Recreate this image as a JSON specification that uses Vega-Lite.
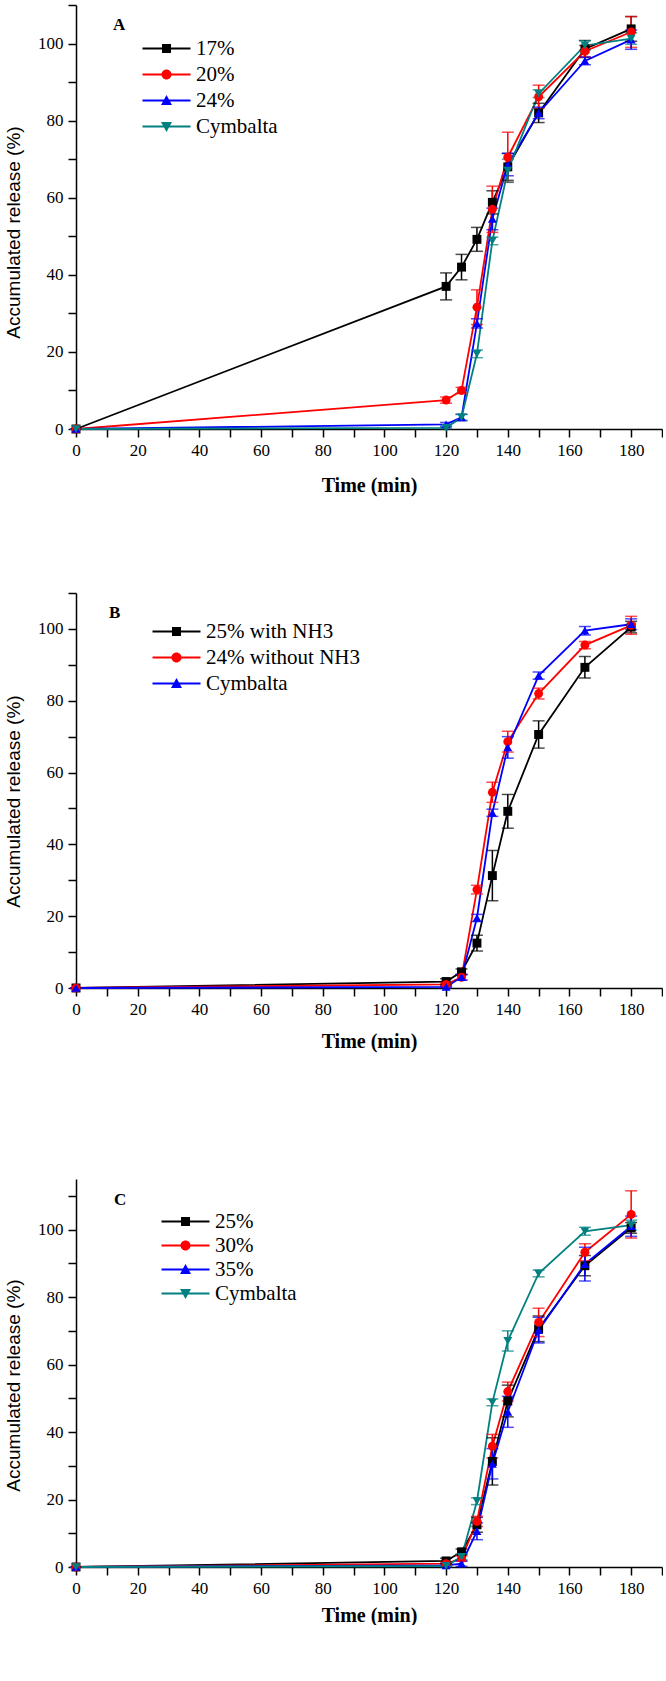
{
  "$schema": "https://vega.github.io/schema/vega-lite/v6.json",
  "padding": {"left": 4, "top": 4, "right": 0, "bottom": 0},
  "config": {
    "view": {"stroke": null},
    "axis": {"grid": false, "domainColor": "#000", "domainWidth": 1.5, "tickColor": "#000", "tickWidth": 1.5, "tickSize": 8, "labelFont": "Liberation Serif", "labelColor": "#000", "labelPadding": 5, "titleColor": "#000"},
    "axisX": {"titleFont": "Liberation Serif", "titleFontWeight": "bold", "titleFontSize": 20, "labelAngle": 0, "labelFlush": false, "labelOverlap": false, "labelFontSize": 17},
    "axisY": {"titleFont": "Liberation Sans", "titleFontWeight": "normal", "titleFontSize": 19, "titlePadding": 14, "labelOverlap": false, "labelFontSize": {"condition": {"test": "datum.value % 20 !== 0", "value": 0}, "value": 17}},
    "legend": {"orient": "none", "labelFont": "Liberation Serif", "labelFontSize": 21, "labelColor": "#000", "symbolSize": 100, "symbolStrokeWidth": 0, "padding": 0, "symbolOffset": 18, "labelOffset": 19, "rowPadding": 4, "labelBaseline": "middle"},
    "title": {"font": "Liberation Serif", "fontWeight": "bold", "fontSize": 17, "color": "#000", "anchor": "start", "frame": "group", "baseline": "middle"}
  },
  "datasets": {
    "A": [
      {"series": "17%", "time": 0, "value": 0, "err": 0},
      {"series": "17%", "time": 120, "value": 37, "err": 3.5},
      {"series": "17%", "time": 125, "value": 42, "err": 3.3},
      {"series": "17%", "time": 130, "value": 49.2, "err": 3.1},
      {"series": "17%", "time": 135, "value": 58.8, "err": 3},
      {"series": "17%", "time": 140, "value": 68, "err": 3.5},
      {"series": "17%", "time": 150, "value": 82, "err": 2.5},
      {"series": "17%", "time": 165, "value": 98.6, "err": 2.2},
      {"series": "17%", "time": 180, "value": 103.8, "err": 3.2},
      {"series": "20%", "time": 0, "value": 0, "err": 0},
      {"series": "20%", "time": 120, "value": 7.5, "err": 0.8},
      {"series": "20%", "time": 125, "value": 10, "err": 0.8},
      {"series": "20%", "time": 130, "value": 31.6, "err": 4.5},
      {"series": "20%", "time": 135, "value": 57, "err": 6},
      {"series": "20%", "time": 140, "value": 70.5, "err": 6.5},
      {"series": "20%", "time": 150, "value": 86.2, "err": 3},
      {"series": "20%", "time": 165, "value": 98, "err": 1.5},
      {"series": "20%", "time": 180, "value": 103, "err": 4},
      {"series": "24%", "time": 0, "value": 0, "err": 0},
      {"series": "24%", "time": 120, "value": 1.2, "err": 0.5},
      {"series": "24%", "time": 125, "value": 3, "err": 0.8},
      {"series": "24%", "time": 130, "value": 27.4, "err": 1.2},
      {"series": "24%", "time": 135, "value": 54.5, "err": 2.8},
      {"series": "24%", "time": 140, "value": 68.6, "err": 2.9},
      {"series": "24%", "time": 150, "value": 82, "err": 1.5},
      {"series": "24%", "time": 165, "value": 95.5, "err": 1},
      {"series": "24%", "time": 180, "value": 101, "err": 2.5},
      {"series": "Cymbalta", "time": 0, "value": 0, "err": 0},
      {"series": "Cymbalta", "time": 120, "value": 0.3, "err": 0.2},
      {"series": "Cymbalta", "time": 125, "value": 3, "err": 0.8},
      {"series": "Cymbalta", "time": 130, "value": 19.5, "err": 1},
      {"series": "Cymbalta", "time": 135, "value": 48.8, "err": 1},
      {"series": "Cymbalta", "time": 140, "value": 67, "err": 3},
      {"series": "Cymbalta", "time": 150, "value": 87, "err": 1},
      {"series": "Cymbalta", "time": 165, "value": 99.5, "err": 1.2},
      {"series": "Cymbalta", "time": 180, "value": 101.3, "err": 1.5}
    ],
    "B": [
      {"series": "25% with NH3", "time": 0, "value": 0, "err": 0},
      {"series": "25% with NH3", "time": 120, "value": 1.8, "err": 0.8},
      {"series": "25% with NH3", "time": 125, "value": 4.5, "err": 0.8},
      {"series": "25% with NH3", "time": 130, "value": 12.5, "err": 2.2},
      {"series": "25% with NH3", "time": 135, "value": 31.3, "err": 7},
      {"series": "25% with NH3", "time": 140, "value": 49.2, "err": 4.7},
      {"series": "25% with NH3", "time": 150, "value": 70.6, "err": 3.8},
      {"series": "25% with NH3", "time": 165, "value": 89.3, "err": 3},
      {"series": "25% with NH3", "time": 180, "value": 100.5, "err": 1.6},
      {"series": "24% without NH3", "time": 0, "value": 0, "err": 0},
      {"series": "24% without NH3", "time": 120, "value": 1, "err": 0.4},
      {"series": "24% without NH3", "time": 125, "value": 3, "err": 0.8},
      {"series": "24% without NH3", "time": 130, "value": 27.4, "err": 1.2},
      {"series": "24% without NH3", "time": 135, "value": 54.5, "err": 2.8},
      {"series": "24% without NH3", "time": 140, "value": 68.6, "err": 2.9},
      {"series": "24% without NH3", "time": 150, "value": 82, "err": 1.5},
      {"series": "24% without NH3", "time": 165, "value": 95.5, "err": 1},
      {"series": "24% without NH3", "time": 180, "value": 101, "err": 2.5},
      {"series": "Cymbalta", "time": 0, "value": 0, "err": 0},
      {"series": "Cymbalta", "time": 120, "value": 0.3, "err": 0.2},
      {"series": "Cymbalta", "time": 125, "value": 3, "err": 0.8},
      {"series": "Cymbalta", "time": 130, "value": 19.5, "err": 1},
      {"series": "Cymbalta", "time": 135, "value": 48.8, "err": 1},
      {"series": "Cymbalta", "time": 140, "value": 67, "err": 3},
      {"series": "Cymbalta", "time": 150, "value": 87, "err": 1},
      {"series": "Cymbalta", "time": 165, "value": 99.5, "err": 1.2},
      {"series": "Cymbalta", "time": 180, "value": 101.3, "err": 1.5}
    ],
    "C": [
      {"series": "25%", "time": 0, "value": 0, "err": 0},
      {"series": "25%", "time": 120, "value": 1.8, "err": 0.8},
      {"series": "25%", "time": 125, "value": 4.5, "err": 0.8},
      {"series": "25%", "time": 130, "value": 12.5, "err": 2.2},
      {"series": "25%", "time": 135, "value": 31.3, "err": 7},
      {"series": "25%", "time": 140, "value": 49.2, "err": 4.7},
      {"series": "25%", "time": 150, "value": 70.6, "err": 3.8},
      {"series": "25%", "time": 165, "value": 89.3, "err": 3},
      {"series": "25%", "time": 180, "value": 100.5, "err": 1.6},
      {"series": "30%", "time": 0, "value": 0, "err": 0},
      {"series": "30%", "time": 120, "value": 1, "err": 0.4},
      {"series": "30%", "time": 125, "value": 2.5, "err": 0.8},
      {"series": "30%", "time": 130, "value": 13.5, "err": 1.5},
      {"series": "30%", "time": 135, "value": 35.8, "err": 3.5},
      {"series": "30%", "time": 140, "value": 52, "err": 2.8},
      {"series": "30%", "time": 150, "value": 72.5, "err": 4.2},
      {"series": "30%", "time": 165, "value": 93.3, "err": 2.5},
      {"series": "30%", "time": 180, "value": 104.5, "err": 7},
      {"series": "35%", "time": 0, "value": 0, "err": 0},
      {"series": "35%", "time": 120, "value": 0.5, "err": 0.3},
      {"series": "35%", "time": 125, "value": 1, "err": 0.8},
      {"series": "35%", "time": 130, "value": 10.6, "err": 2.5},
      {"series": "35%", "time": 135, "value": 30.6, "err": 4.5},
      {"series": "35%", "time": 140, "value": 46, "err": 4.6},
      {"series": "35%", "time": 150, "value": 70.2, "err": 3.8},
      {"series": "35%", "time": 165, "value": 89.8, "err": 5},
      {"series": "35%", "time": 180, "value": 101, "err": 3},
      {"series": "Cymbalta", "time": 0, "value": 0, "err": 0},
      {"series": "Cymbalta", "time": 120, "value": 0.3, "err": 0.2},
      {"series": "Cymbalta", "time": 125, "value": 3, "err": 0.8},
      {"series": "Cymbalta", "time": 130, "value": 19.5, "err": 1},
      {"series": "Cymbalta", "time": 135, "value": 48.8, "err": 1},
      {"series": "Cymbalta", "time": 140, "value": 67, "err": 3},
      {"series": "Cymbalta", "time": 150, "value": 87, "err": 1},
      {"series": "Cymbalta", "time": 165, "value": 99.5, "err": 1.2},
      {"series": "Cymbalta", "time": 180, "value": 101.3, "err": 1.5}
    ]
  },
  "spacing": 97,
  "resolve": {"scale": {"color": "independent", "shape": "independent"}, "legend": {"color": "independent", "shape": "independent"}},
  "vconcat": [
    {
      "width": 586, "height": 424,
      "title": {"text": "A", "dx": 37, "offset": -30},
      "data": {"name": "A"},
      "encoding": {
        "x": {"field": "time", "type": "quantitative", "scale": {"domain": [0, 190], "nice": false}, "axis": {"values": [0,10,20,30,40,50,60,70,80,90,100,110,120,130,140,150,160,170,180,190], "labelExpr": "datum.value % 20 === 0 && datum.value <= 180 ? datum.label : ''", "title": "Time (min)", "titlePadding": 17}},
        "y": {"field": "value", "type": "quantitative", "scale": {"domain": [0, 110], "nice": false}, "axis": {"values": [0,10,20,30,40,50,60,70,80,90,100,110], "labelExpr": "datum.value % 20 === 0 ? datum.label : ''", "title": "Accumulated release (%)", "titleY": 227}},
        "color": {"field": "series", "type": "nominal", "scale": {"domain": ["17%", "20%", "24%", "Cymbalta"], "range": ["#000000", "#ff0000", "#0000ff", "#008080"]}, "legend": {"title": null, "orient": "none", "legendX": 62, "legendY": 33, "rowPadding": 4, "encode": {"symbols": {"update": {"shape": {"signal": "datum.value === '17%' ? 'M-4.8,-0.18H4.8V0.18H-4.8ZM-0.9,-0.9H0.9V0.9H-0.9Z' : datum.value === '20%' ? 'M-4.8,-0.18H4.8V0.18H-4.8ZM1,0A1,1,0,1,1,-1,0A1,1,0,1,1,1,0Z' : datum.value === '24%' ? 'M-4.8,-0.18H4.8V0.18H-4.8ZM0,-1.1L1.1,0.9L-1.1,0.9Z' : 'M-4.8,-0.18H4.8V0.18H-4.8ZM0,1.1L-1.1,-0.9L1.1,-0.9Z'"}, "fill": {"signal": "datum.value === '17%' ? '#000000' : datum.value === '20%' ? '#ff0000' : datum.value === '24%' ? '#0000ff' : '#008080'"}, "strokeWidth": {"value": 0}, "opacity": {"value": 1}}}}}}
      },
      "layer": [
        {"mark": {"type": "line", "strokeWidth": 1.8}},
        {"mark": {"type": "errorbar", "ticks": {"size": 12}, "thickness": 1.5}, "encoding": {"yError": {"field": "err"}}},
        {"mark": {"type": "point", "filled": true, "size": 80, "opacity": 1},
         "encoding": {
           "shape": {"field": "series", "type": "nominal", "scale": {"range": ["square", "circle", "triangle-up", "triangle-down"]}, "legend": null}
         }}
      ]
    },
    {
      "spacing": 128,
      "resolve": {"scale": {"color": "independent", "shape": "independent"}, "legend": {"color": "independent", "shape": "independent"}},
      "vconcat": [
        {
          "width": 586, "height": 395,
          "title": {"text": "B", "dx": 33, "offset": -30},
          "data": {"name": "B"},
          "encoding": {
            "x": {"field": "time", "type": "quantitative", "scale": {"domain": [0, 190], "nice": false}, "axis": {"values": [0,10,20,30,40,50,60,70,80,90,100,110,120,130,140,150,160,170,180,190], "labelExpr": "datum.value % 20 === 0 && datum.value <= 180 ? datum.label : ''", "title": "Time (min)", "titlePadding": 14}},
            "y": {"field": "value", "type": "quantitative", "scale": {"domain": [0, 110], "nice": false}, "axis": {"values": [0,10,20,30,40,50,60,70,80,90,100,110], "labelExpr": "datum.value % 20 === 0 ? datum.label : ''", "title": "Accumulated release (%)", "titleY": 208}},
            "color": {"field": "series", "type": "nominal", "scale": {"domain": ["25% with NH3", "24% without NH3", "Cymbalta"], "range": ["#000000", "#ff0000", "#0000ff"]}, "legend": {"title": null, "orient": "none", "legendX": 72, "legendY": 28, "rowPadding": 4, "encode": {"symbols": {"update": {"shape": {"signal": "datum.value === '25% with NH3' ? 'M-4.8,-0.18H4.8V0.18H-4.8ZM-0.9,-0.9H0.9V0.9H-0.9Z' : datum.value === '24% without NH3' ? 'M-4.8,-0.18H4.8V0.18H-4.8ZM1,0A1,1,0,1,1,-1,0A1,1,0,1,1,1,0Z' : 'M-4.8,-0.18H4.8V0.18H-4.8ZM0,-1.1L1.1,0.9L-1.1,0.9Z'"}, "fill": {"signal": "datum.value === '25% with NH3' ? '#000000' : datum.value === '24% without NH3' ? '#ff0000' : '#0000ff'"}, "strokeWidth": {"value": 0}, "opacity": {"value": 1}}}}}}
          },
          "layer": [
            {"mark": {"type": "line", "strokeWidth": 1.8}},
            {"mark": {"type": "errorbar", "ticks": {"size": 12}, "thickness": 1.5}, "encoding": {"yError": {"field": "err"}}},
            {"mark": {"type": "point", "filled": true, "size": 80, "opacity": 1},
             "encoding": {
               "shape": {"field": "series", "type": "nominal", "scale": {"range": ["circle", "square", "triangle-up"]}, "legend": null}
             }}
          ]
        },
        {
          "width": 586, "height": 388,
          "title": {"text": "C", "dx": 38, "offset": -30},
          "data": {"name": "C"},
          "encoding": {
            "x": {"field": "time", "type": "quantitative", "scale": {"domain": [0, 190], "nice": false}, "axis": {"values": [0,10,20,30,40,50,60,70,80,90,100,110,120,130,140,150,160,170,180,190], "labelExpr": "datum.value % 20 === 0 && datum.value <= 180 ? datum.label : ''", "title": "Time (min)", "titlePadding": 9}},
            "y": {"field": "value", "type": "quantitative", "scale": {"domain": [0, 115], "nice": false}, "axis": {"values": [0,10,20,30,40,50,60,70,80,90,100,110], "labelExpr": "datum.value % 20 === 0 ? datum.label : ''", "title": "Accumulated release (%)", "titleY": 206}},
            "color": {"field": "series", "type": "nominal", "scale": {"domain": ["25%", "30%", "35%", "Cymbalta"], "range": ["#000000", "#ff0000", "#0000ff", "#008080"]}, "legend": {"title": null, "orient": "none", "legendX": 81, "legendY": 32, "rowPadding": 2, "encode": {"symbols": {"update": {"shape": {"signal": "datum.value === '25%' ? 'M-4.8,-0.18H4.8V0.18H-4.8ZM-0.9,-0.9H0.9V0.9H-0.9Z' : datum.value === '30%' ? 'M-4.8,-0.18H4.8V0.18H-4.8ZM1,0A1,1,0,1,1,-1,0A1,1,0,1,1,1,0Z' : datum.value === '35%' ? 'M-4.8,-0.18H4.8V0.18H-4.8ZM0,-1.1L1.1,0.9L-1.1,0.9Z' : 'M-4.8,-0.18H4.8V0.18H-4.8ZM0,1.1L-1.1,-0.9L1.1,-0.9Z'"}, "fill": {"signal": "datum.value === '25%' ? '#000000' : datum.value === '30%' ? '#ff0000' : datum.value === '35%' ? '#0000ff' : '#008080'"}, "strokeWidth": {"value": 0}, "opacity": {"value": 1}}}}}}
          },
          "layer": [
            {"mark": {"type": "line", "strokeWidth": 1.8}},
            {"mark": {"type": "errorbar", "ticks": {"size": 12}, "thickness": 1.5}, "encoding": {"yError": {"field": "err"}}},
            {"mark": {"type": "point", "filled": true, "size": 80, "opacity": 1},
             "encoding": {
               "shape": {"field": "series", "type": "nominal", "scale": {"range": ["square", "circle", "triangle-up", "triangle-down"]}, "legend": null}
             }}
          ]
        }
      ]
    }
  ]
}
